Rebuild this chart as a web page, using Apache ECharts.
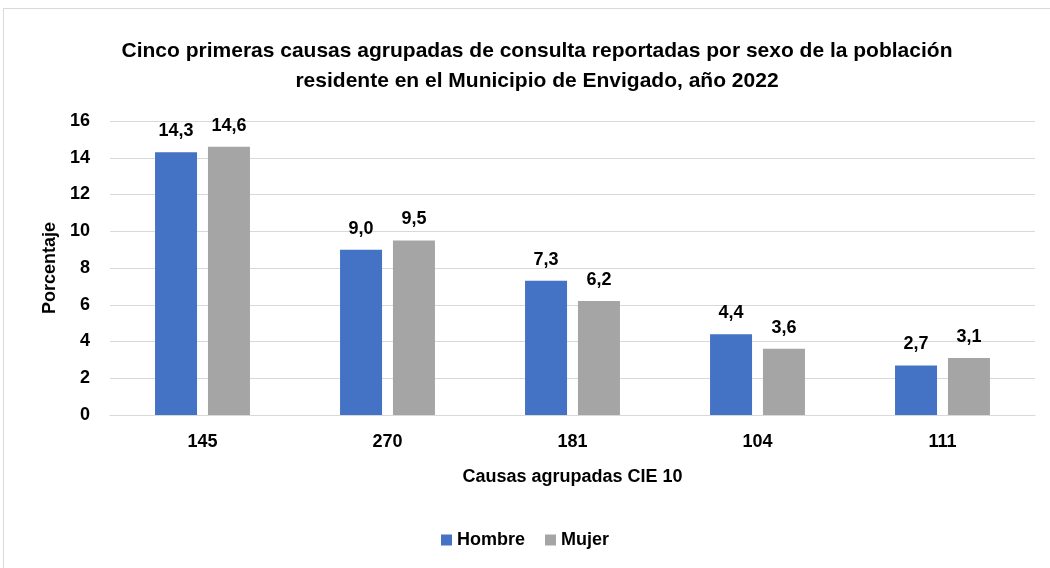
<!DOCTYPE html>
<html>
<head>
<meta charset="utf-8">
<script src="https://cdn.jsdelivr.net/npm/echarts@6/dist/echarts.min.js"></script>
<style>
  html, body { margin: 0; padding: 0; background: #fff; }
  #frame { position: absolute; left: 3px; top: 8px; width: 1060px; height: 580px; border: 1px solid #d9d9d9; }
  #main { position: absolute; left: 0; top: 0; width: 1050px; height: 568px; }
</style>
</head>
<body>
<div id="frame"></div>
<div id="main"></div>
<script>
const causas = ["145", "270", "181", "104", "111"];
const hombre = [14.3, 9.0, 7.3, 4.4, 2.7];
const mujer = [14.6, 9.5, 6.2, 3.6, 3.1];
const fuente = "'Liberation Sans Narrow', 'Arial Narrow', 'Liberation Sans', Arial, sans-serif";

const chart = echarts.init(document.getElementById("main"));
const etiqueta = {
  show: true,
  position: "top",
  distance: 12,
  fontFamily: fuente,
  fontWeight: "bold",
  fontSize: 18,
  color: "#000",
  formatter: p => p.value.toFixed(1).replace(".", ",")
};

chart.setOption({
  animation: false,
  textStyle: { fontFamily: fuente },
  title: {
    text: "Cinco primeras causas agrupadas de consulta reportadas por sexo de la población\nresidente en el Municipio de Envigado, año 2022",
    left: 532,
    top: 31,
    textAlign: "center",
    textStyle: { fontFamily: fuente, fontWeight: "bold", fontSize: 21, lineHeight: 30, color: "#000" }
  },
  legend: {
    bottom: 14,
    left: "center",
    itemWidth: 11,
    itemHeight: 11,
    itemGap: 20,
    icon: "rect",
    textStyle: { fontFamily: fuente, fontWeight: "bold", fontSize: 18, color: "#000" }
  },
  grid: { left: 110, right: 15, top: 121, bottom: 153 },
  xAxis: {
    type: "category",
    data: causas,
    name: "Causas agrupadas CIE 10",
    nameLocation: "middle",
    nameGap: 53,
    nameTextStyle: { fontFamily: fuente, fontWeight: "bold", fontSize: 18, color: "#000" },
    axisLine: { lineStyle: { color: "#d9d9d9", width: 1 } },
    axisTick: { show: false },
    axisLabel: { fontFamily: fuente, fontWeight: "bold", fontSize: 18, color: "#000", margin: 18 }
  },
  yAxis: {
    type: "value",
    min: 0,
    max: 16,
    interval: 2,
    name: "Porcentaje",
    nameLocation: "middle",
    nameGap: 50,
    nameTextStyle: { fontFamily: fuente, fontWeight: "bold", fontSize: 18, color: "#000" },
    axisLine: { show: false },
    axisTick: { show: false },
    axisLabel: { fontFamily: fuente, fontWeight: "bold", fontSize: 18, color: "#000", margin: 20 },
    splitLine: { lineStyle: { color: "#d9d9d9", width: 1 } }
  },
  series: [
    {
      name: "Hombre",
      type: "bar",
      data: hombre,
      barWidth: 42,
      barGap: "26%",
      itemStyle: { color: "#4472c4" },
      label: etiqueta
    },
    {
      name: "Mujer",
      type: "bar",
      data: mujer,
      barWidth: 42,
      itemStyle: { color: "#a5a5a5" },
      label: etiqueta
    }
  ]
});
</script>
</body>
</html>
